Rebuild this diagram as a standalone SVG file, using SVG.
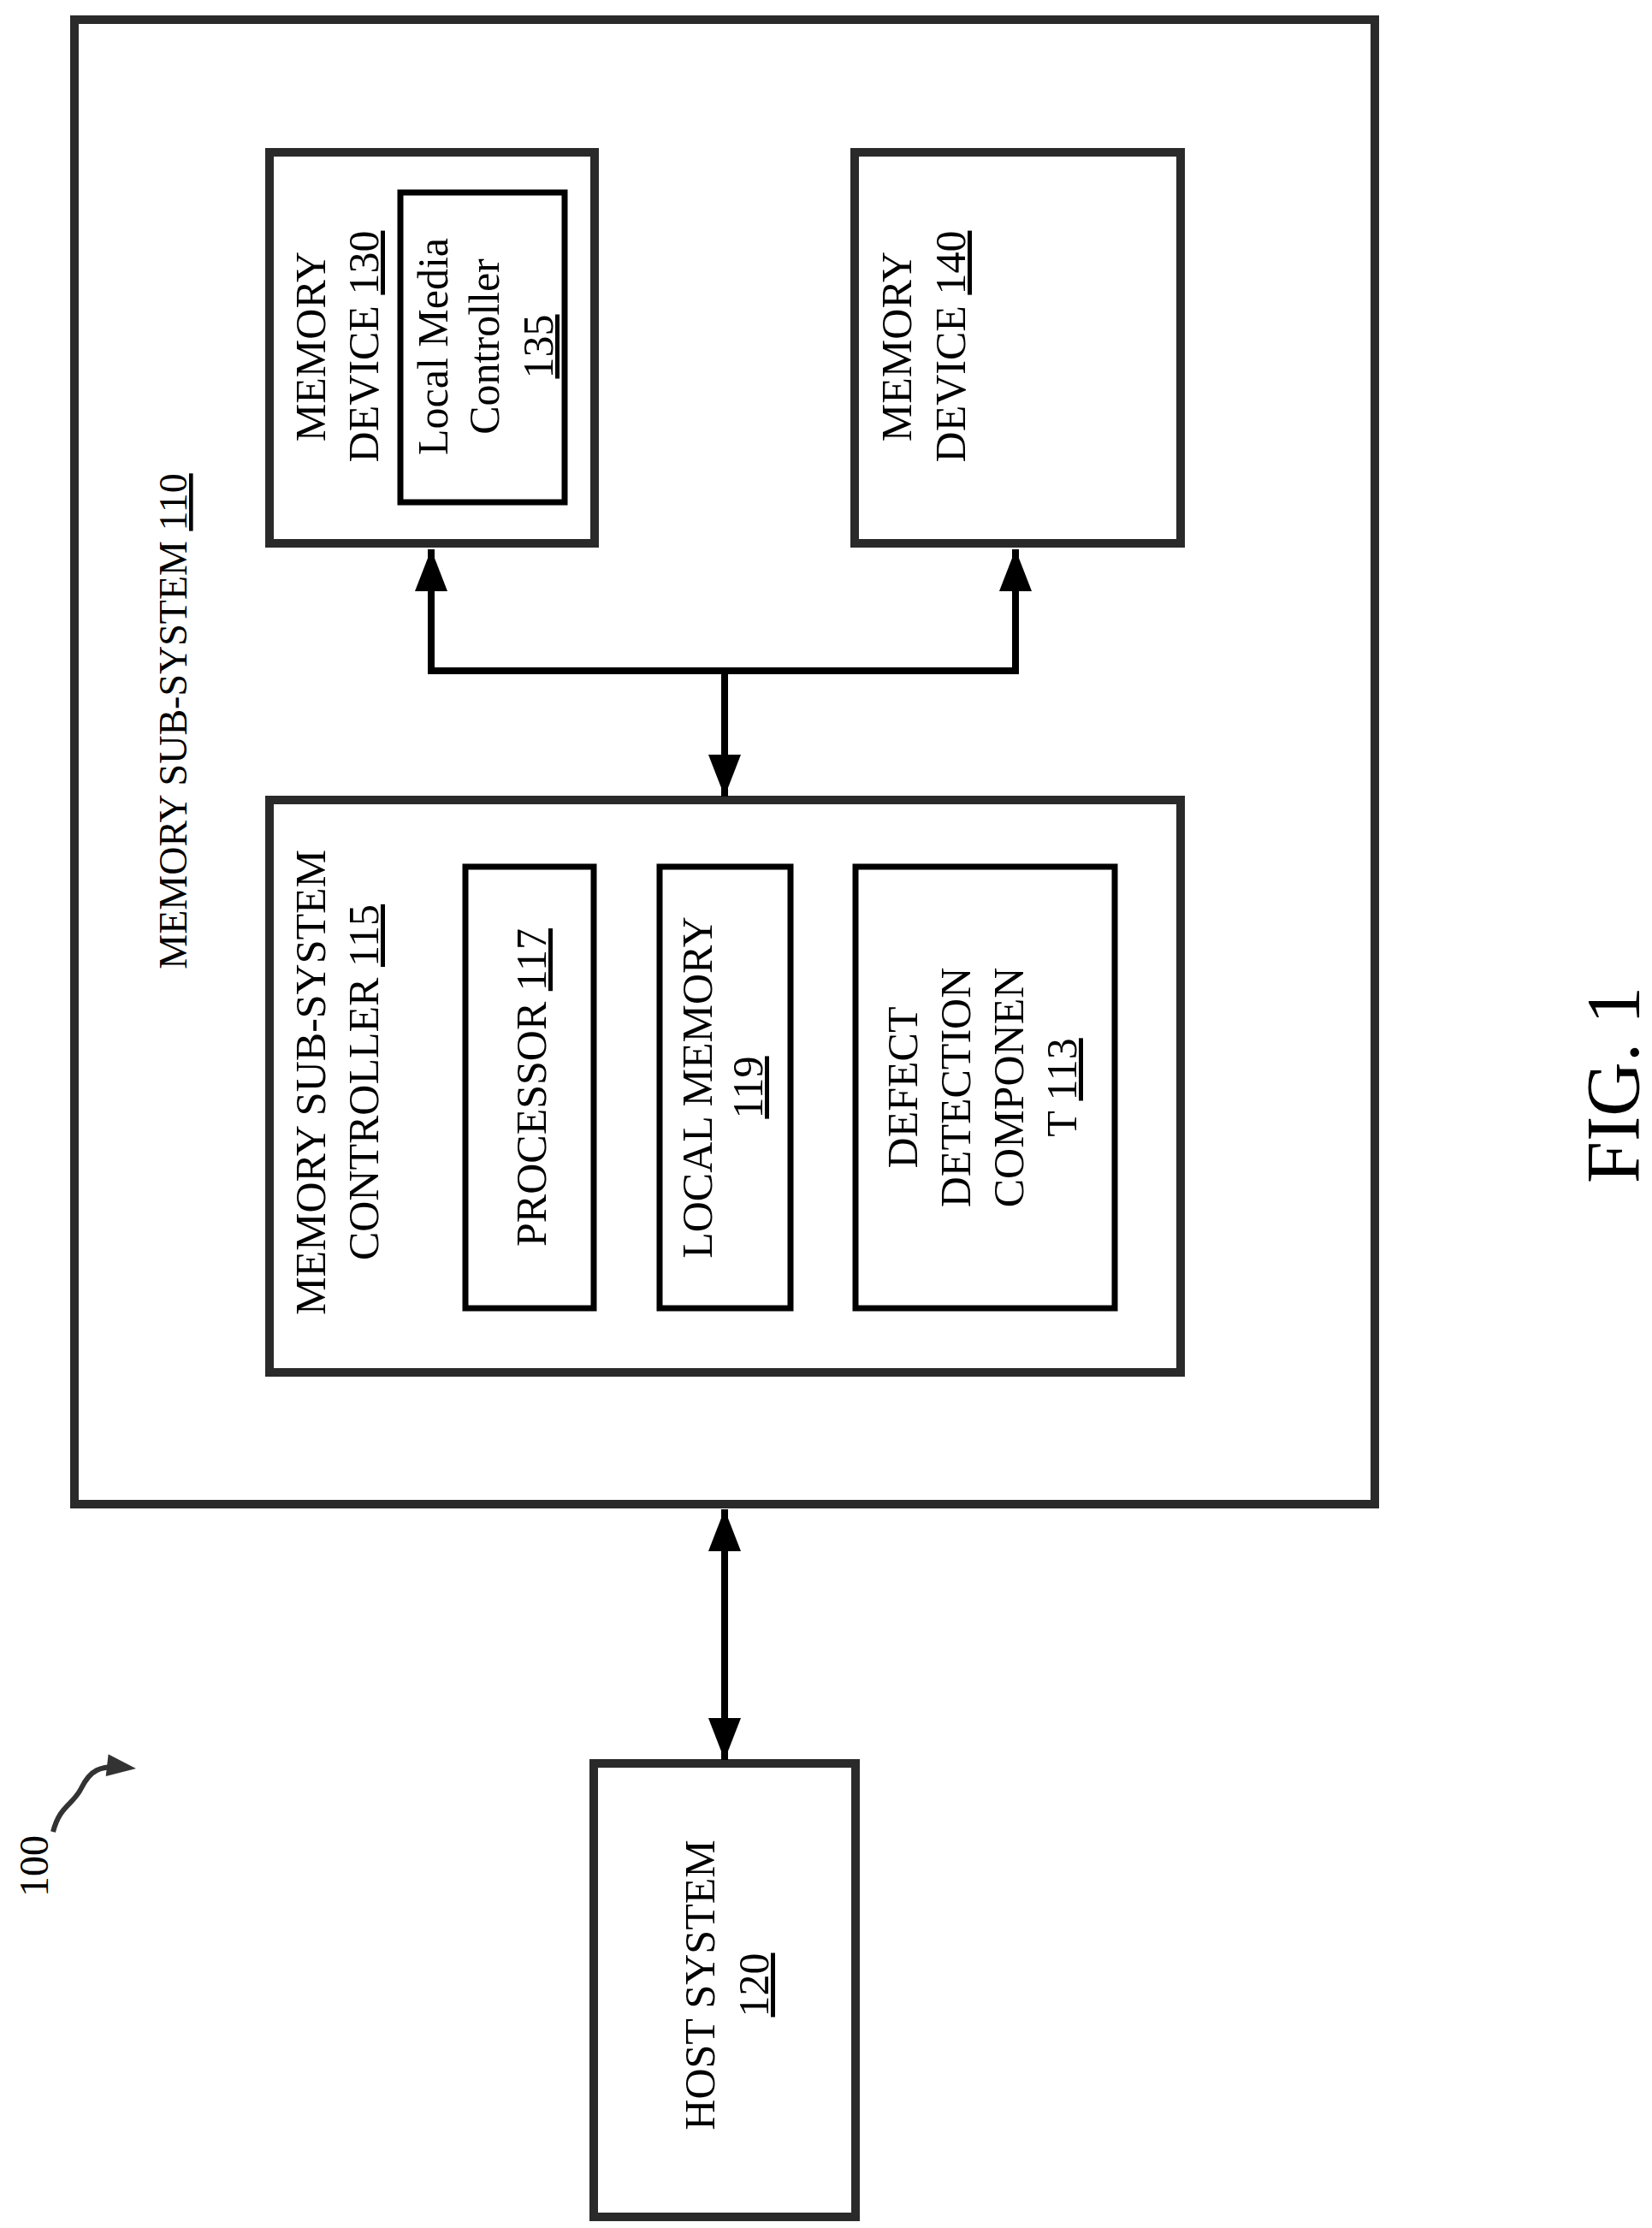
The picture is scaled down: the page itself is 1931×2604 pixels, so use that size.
<svg xmlns="http://www.w3.org/2000/svg" width="1931" height="2604" viewBox="0 0 1931 2604">
<style>
.box{fill:none;stroke:#2a2a2a;stroke-width:10}
.ibox{fill:none;stroke:#000;stroke-width:7}
.t{font-family:"Liberation Serif",serif;font-size:50px;fill:#000;text-anchor:middle}
.c{fill:none;stroke:#000;stroke-width:8}
</style>
<defs>
<marker id="ah" markerWidth="10" markerHeight="10" refX="9" refY="5" orient="auto-start-reverse" markerUnits="userSpaceOnUse" viewBox="0 0 10 10" style="overflow:visible"><path d="M-40,-14 L9,5 L-40,24 Z" fill="#000"/></marker>
<marker id="sq" markerWidth="10" markerHeight="10" refX="5" refY="5" orient="auto" markerUnits="userSpaceOnUse" viewBox="0 0 10 10" style="overflow:visible"><path d="M-20,-8 L14,5 L-20,18 Z" fill="#333"/></marker>
</defs>
<g id="memory-sub-system-110"><rect class="box" x="87" y="23" width="1520" height="1735"/>
<text class="t" transform="translate(218,843) rotate(-90)" style="font-size:46px">MEMORY SUB-SYSTEM <tspan text-decoration="underline">110</tspan></text></g>
<g id="memory-device-130"><rect class="box" x="315" y="178" width="380" height="457"/>
<text class="t" transform="translate(380,405) rotate(-90)">MEMORY</text>
<text class="t" transform="translate(442,405) rotate(-90)">DEVICE <tspan text-decoration="underline">130</tspan></text></g>
<g id="local-media-controller-135"><rect class="ibox" x="468" y="225" width="192" height="362"/>
<text class="t" transform="translate(523,405) rotate(-90)">Local Media</text>
<text class="t" transform="translate(583,405) rotate(-90)">Controller</text>
<text class="t" transform="translate(646,405) rotate(-90)" text-decoration="underline">135</text></g>
<g id="memory-device-140"><rect class="box" x="999" y="178" width="381" height="457"/>
<text class="t" transform="translate(1065,405) rotate(-90)">MEMORY</text>
<text class="t" transform="translate(1128,405) rotate(-90)">DEVICE <tspan text-decoration="underline">140</tspan></text></g>
<g id="controller-115"><rect class="box" x="315" y="935" width="1065" height="669"/>
<text class="t" transform="translate(380,1265) rotate(-90)">MEMORY SUB-SYSTEM</text>
<text class="t" transform="translate(442,1265) rotate(-90)">CONTROLLER <tspan text-decoration="underline">115</tspan></text></g>
<g id="processor-117"><rect class="ibox" x="544" y="1013" width="150" height="516"/>
<text class="t" transform="translate(638,1271) rotate(-90)">PROCESSOR <tspan text-decoration="underline">117</tspan></text></g>
<g id="local-memory-119"><rect class="ibox" x="771" y="1013" width="153" height="516"/>
<text class="t" transform="translate(832,1271) rotate(-90)">LOCAL MEMORY</text>
<text class="t" transform="translate(891,1271) rotate(-90)" text-decoration="underline">119</text></g>
<g id="defect-detection-113"><rect class="ibox" x="1000" y="1013" width="303" height="516"/>
<text class="t" transform="translate(1072,1271) rotate(-90)">DEFECT</text>
<text class="t" transform="translate(1134,1271) rotate(-90)">DETECTION</text>
<text class="t" transform="translate(1196,1271) rotate(-90)">COMPONEN</text>
<text class="t" transform="translate(1258,1271) rotate(-90)">T <tspan text-decoration="underline">113</tspan></text></g>
<g id="host-system-120"><rect class="box" x="694" y="2061" width="306" height="530"/>
<text class="t" transform="translate(835,2320) rotate(-90)">HOST SYSTEM</text>
<text class="t" transform="translate(898,2320) rotate(-90)" text-decoration="underline">120</text></g>
<g id="connectors">
<path class="c" d="M504,642 L504,784 L1187,784 L1187,642" marker-start="url(#ah)" marker-end="url(#ah)"/>
<path class="c" d="M847,784 L847,931" marker-end="url(#ah)"/>
<path class="c" d="M847,1764 L847,2057" marker-start="url(#ah)" marker-end="url(#ah)"/>
<path d="M62,2141 C70,2110 85,2110 95,2090 C105,2070 115,2062 150,2066" fill="none" stroke="#333" stroke-width="6" marker-end="url(#sq)"/>
</g>
<g id="labels">
<text class="t" transform="translate(56,2181) rotate(-90)" style="font-size:48px">100</text>
<text class="t" transform="translate(1915,1268) rotate(-90)" style="font-size:88px">FIG. 1</text>
</g>
</svg>
